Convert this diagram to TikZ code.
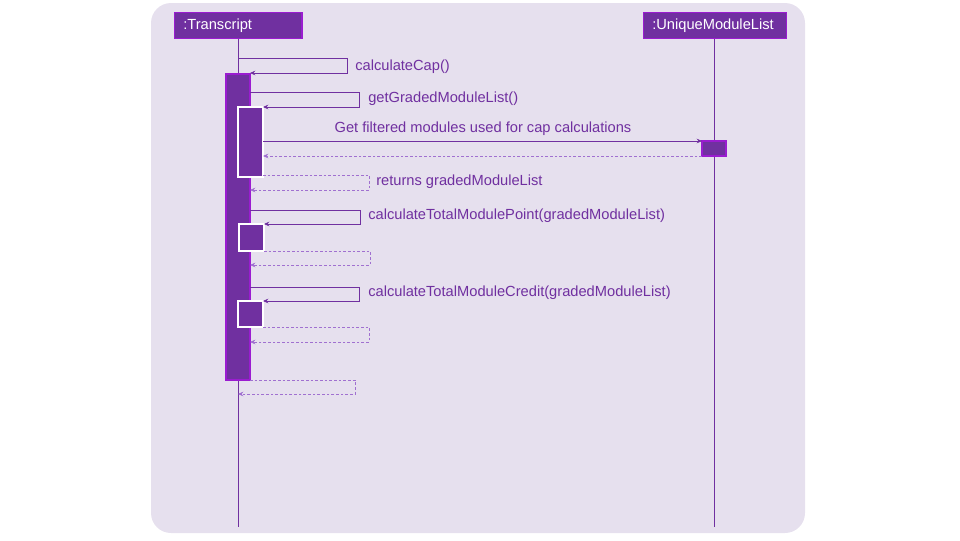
\documentclass[tikz,border=0pt]{standalone}
\usepackage{fontspec}
\setmainfont{Liberation Sans}
\usetikzlibrary{positioning, arrows.meta, calc}

\definecolor{seqpurple}{HTML}{7030A0}
\definecolor{seqborder}{HTML}{9A1CD0}
\definecolor{seqreturn}{HTML}{A070D0}
\definecolor{seqback}{HTML}{E6E0EE}

\tikzset{
    obj/.style={fill=seqpurple, draw=seqborder, text=white, line width=0.9pt,
        minimum height=19.5pt, inner xsep=6.5pt, align=left, anchor=north west,
        font=\fontsize{11}{13}\selectfont},
    act/.style={fill=seqpurple, draw=seqborder, line width=0.9pt},
    subact/.style={fill=seqpurple, draw=white, line width=0.9pt},
    life/.style={draw=seqpurple, line width=0.75pt},
    call/.style={draw=seqpurple, line width=0.75pt, ->},
    ret/.style={draw=seqreturn, line width=0.75pt, dash pattern=on 2pt off 1.5pt, ->},
    msg/.style={text=seqpurple, font=\fontsize{11}{13}\selectfont, inner sep=0pt}
}

\begin{document}
\begin{tikzpicture}[x=0.75pt, y=-0.75pt, >={Stealth[length=4pt, width=3.5pt]}]
    \useasboundingbox (0,0) rectangle (960,540);

    % --- 背景 ---
    \fill[seqback, rounded corners=15pt] (151,3) rectangle (805,533);

    % --- 对象 ---
    \node[obj, text width=82.5pt] (transcript) at (174,12) {:Transcript};
    \node[obj, text width=94pt] (uml) at (643,12) {:UniqueModuleList};

    % 生命线
    \coordinate (tEnd) at (transcript.south |- 0,527);
    \coordinate (uEnd) at (uml.south |- 0,527);
    \draw[life] (transcript.south) -- (tEnd);
    \draw[life] (uml.south) -- (uEnd);

    % --- 激活条 ---
    \draw[act] (226,74) coordinate (mainTop) rectangle (250,380) coordinate (mainBot);
    \draw[subact] (238,107) coordinate (gTop) rectangle (263,177) coordinate (gBot);
    \draw[subact] (239,224) coordinate (pTop) rectangle (264,251) coordinate (pBot);
    \draw[subact] (238,301) coordinate (cTop) rectangle (263,327) coordinate (cBot);
    \draw[act] (702,141) coordinate (uTop) rectangle (726,156) coordinate (uBot);

    % --- 消息 ---
    % calculateCap()
    \draw[call] (238,58) -- (347,58) |- (250,73);
    \node[msg, anchor=west] (capLbl) at (355,67) {calculateCap()};

    % getGradedModuleList()
    \draw[call] (250,92) -- (359,92) |- (gBot |- gTop);
    \node[msg, anchor=west] (getLbl) at (368,99) {getGradedModuleList()};

    % 到 UniqueModuleList
    \draw[call] (gBot |- uTop) -- (uTop);
    \node[msg] (filterLbl) at (483,129) {Get filtered modules used for cap calculations};
    \draw[ret] (uTop |- uBot) -- (gBot |- uBot);

    % returns gradedModuleList
    \draw[ret] (263,175) -- (369,175) |- (250,190);
    \node[msg, anchor=west] (retLbl) at (376,182) {returns gradedModuleList};

    % calculateTotalModulePoint
    \draw[call] (250,210) -- (360,210) |- (pBot |- pTop);
    \node[msg, anchor=west] (pointLbl) at (368,216) {calculateTotalModulePoint(gradedModuleList)};
    \draw[ret] (pBot) -- (370,251) |- (250,265);

    % calculateTotalModuleCredit
    \draw[call] (250,287) -- (359,287) |- (cBot |- cTop);
    \node[msg, anchor=west] (creditLbl) at (368,293) {calculateTotalModuleCredit(gradedModuleList)};
    \draw[ret] (cBot) -- (369,327) |- (250,342);

    % 最终返回
    \draw[ret] (mainBot) -- (355,380) |- (238,394);

\end{tikzpicture}
\end{document}
